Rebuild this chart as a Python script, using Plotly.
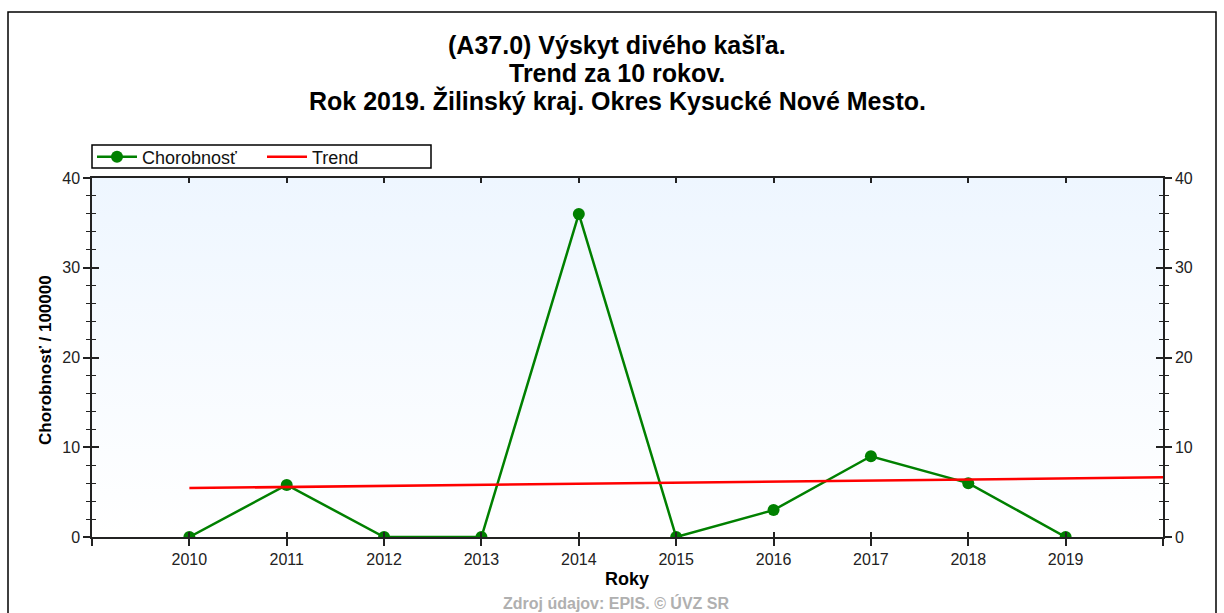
import plotly.graph_objects as go

# data
years = [2010, 2011, 2012, 2013, 2014, 2015, 2016, 2017, 2018, 2019]
chorobnost = [0, 5.8, 0, 0, 36.0, 0, 3.0, 9.0, 6.0, 0]
trend_years = [2010, 2020]
trend_values = [5.45, 6.65]
tick_years = list(range(2009, 2021))
tick_labels = [str(y) if 2010 <= y <= 2019 else "" for y in tick_years]

W, H = 1224, 613
L, R, T, B = 92, 61, 178, 76
pw, ph = W - L - R, H - T - B


def px(x):
    return (x - L) / pw


def py(y):
    return (H - B - y) / ph


FONT = "Liberation Sans, Arial, sans-serif"
AX = "#222222"

fig = go.Figure()

# plot background gradient
fig.add_trace(go.Scatter(
    x=[2009, 2020, 2020, 2009, 2009], y=[0, 0, 40, 40, 0],
    fill="toself", mode="none", hoverinfo="skip", showlegend=False,
    fillgradient=dict(type="vertical", colorscale=[[0, "#ffffff"], [1, "#eef6ff"]]),
))

fig.add_trace(go.Scatter(
    x=years, y=chorobnost, name="Chorobnosť", mode="lines+markers",
    line=dict(color="#008000", width=2.5),
    marker=dict(color="#008000", size=12),
))
fig.add_trace(go.Scatter(
    x=trend_years, y=trend_values, name="Trend", mode="lines",
    line=dict(color="#ff0000", width=2.5),
))

# dummy traces so the overlay axes get drawn
fig.add_trace(go.Scatter(x=[2009], y=[0], xaxis="x2", yaxis="y2", mode="none",
                         showlegend=False, hoverinfo="skip"))
fig.add_trace(go.Scatter(x=[2009], y=[0], xaxis="x", yaxis="y3", mode="none",
                         showlegend=False, hoverinfo="skip"))

tickfont = dict(family=FONT, size=16, color="#222222")

fig.update_layout(
    width=W, height=H,
    margin=dict(l=L, r=R, t=T, b=B),
    paper_bgcolor="white", plot_bgcolor="white",
    font=dict(family=FONT),
    xaxis=dict(
        range=[2009, 2020], tickvals=tick_years, ticktext=tick_labels,
        ticks="outside", ticklen=7, tickwidth=1.5, tickcolor=AX,
        showline=True, linecolor=AX, linewidth=1.5, showgrid=False,
        zeroline=False, tickfont=tickfont, fixedrange=True,
    ),
    xaxis2=dict(
        range=[2009, 2020], tickvals=tick_years, overlaying="x", anchor="y",
        side="bottom", ticks="inside", ticklen=5, tickwidth=1.5, tickcolor=AX,
        mirror="ticks", showline=True, linecolor=AX, linewidth=1.5,
        showgrid=False, zeroline=False, showticklabels=False,
    ),
    yaxis=dict(
        range=[0, 40], dtick=10, ticks="outside", ticklen=7, tickwidth=1.5,
        tickcolor=AX, showline=True, linecolor=AX, linewidth=1.5,
        showgrid=False, zeroline=False, tickfont=tickfont,
        minor=dict(dtick=2, ticks="outside", ticklen=4, tickwidth=1.2, tickcolor=AX),
    ),
    yaxis2=dict(
        range=[0, 40], dtick=10, overlaying="y", side="right", anchor="x",
        ticks="outside", ticklen=7, tickwidth=1.5, tickcolor=AX,
        showline=True, linecolor=AX, linewidth=1.5, showgrid=False,
        zeroline=False, tickfont=tickfont,
        minor=dict(dtick=2, ticks="outside", ticklen=4, tickwidth=1.2, tickcolor=AX),
    ),
    yaxis3=dict(
        range=[0, 40], dtick=10, overlaying="y", side="left", anchor="x",
        ticks="inside", ticklen=7, tickwidth=1.5, tickcolor=AX, mirror="ticks",
        showline=True, linecolor=AX, linewidth=1.5, showgrid=False,
        zeroline=False, showticklabels=False,
        minor=dict(dtick=2, ticks="inside", ticklen=4, tickwidth=1.2, tickcolor=AX),
    ),
    legend=dict(
        orientation="h", x=0, xanchor="left", y=py(157), yanchor="middle",
        borderwidth=0, bgcolor="rgba(0,0,0,0)",
        font=dict(family=FONT, size=18, color="#111111"),
        entrywidth=115, itemwidth=40, tracegroupgap=0,
    ),
    showlegend=True,
)

# legend frame
fig.add_shape(
    type="rect", xref="paper", yref="paper",
    x0=px(92), x1=px(431), y0=py(168), y1=py(145),
    line=dict(color="#000000", width=1.5),
)

title_lines = [
    ("(A37.0) Výskyt divého kašľa.", 45),
    ("Trend za 10 rokov.", 73),
    ("Rok 2019. Žilinský kraj. Okres Kysucké Nové Mesto.", 101),
]
for text, yy in title_lines:
    fig.add_annotation(
        text=f"<b>{text}</b>", x=px(617), y=py(yy), xref="paper", yref="paper",
        xanchor="center", yanchor="middle", showarrow=False,
        font=dict(family=FONT, size=25, color="#000000"),
    )

fig.add_annotation(
    text="<b>Chorobnosť / 100000</b>", x=px(45), y=py(360), xref="paper", yref="paper",
    textangle=-90, xanchor="center", yanchor="middle", showarrow=False,
    font=dict(family=FONT, size=17, color="#000000"),
)
fig.add_annotation(
    text="<b>Roky</b>", x=px(627), y=py(579), xref="paper", yref="paper",
    xanchor="center", yanchor="middle", showarrow=False,
    font=dict(family=FONT, size=18, color="#000000"),
)
fig.add_annotation(
    text="<b>Zdroj údajov: EPIS. © ÚVZ SR</b>", x=px(616), y=py(603), xref="paper",
    yref="paper", xanchor="center", yanchor="middle", showarrow=False,
    font=dict(family=FONT, size=16, color="#b0b0b0"),
)

# outer frame of the chart
fig.add_shape(
    type="rect", xref="paper", yref="paper",
    x0=px(8), x1=px(1216), y0=py(640), y1=py(12),
    line=dict(color="#000000", width=1.5), layer="below",
)

fig.write_html("out.html", config={"displayModeBar": False},
               post_script="document.body.style.margin = '0';")
